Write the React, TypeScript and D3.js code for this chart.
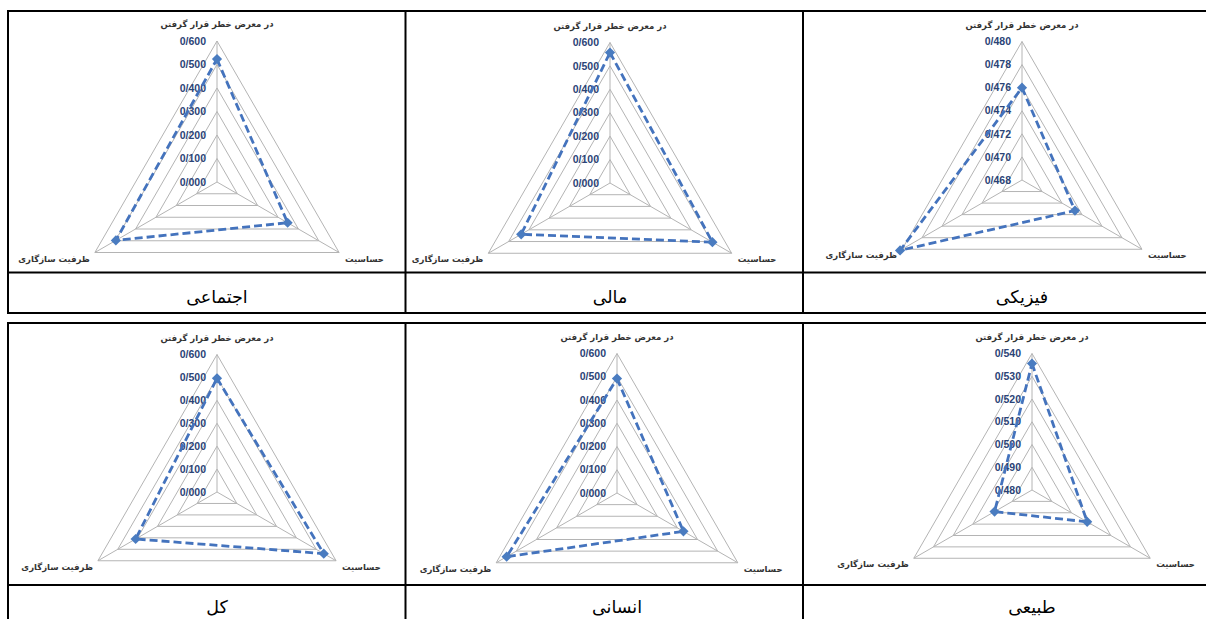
import React from 'react';
import * as d3 from 'd3';

// axes of every radar: top, bottom-right, bottom-left
const axisNames = ['در معرض خطر قرار گرفتن', 'حساسیت', 'ظرفیت سازگاری'];
const panelTitles = ['اجتماعی', 'مالی', 'فیزیکی', 'کل', 'انسانی', 'طبیعی'];

const socialValues = [0.523, 0.347, 0.497];
const financialValues = [0.557, 0.505, 0.438];
const physicalValues = [0.476, 0.4733, 0.4802];
const totalValues = [0.496, 0.538, 0.41];
const humanValues = [0.492, 0.33, 0.548];
const naturalValues = [0.5356, 0.508, 0.499];

const axisMins = [0, 0, 0.468, 0, 0, 0.48];
const axisMaxs = [0.6, 0.6, 0.48, 0.6, 0.6, 0.54];
const tickSteps = [0.1, 0.1, 0.002, 0.1, 0.1, 0.01];

const seriesList = [socialValues, financialValues, physicalValues, totalValues, humanValues, naturalValues];

// where each pasted chart sits in the table
const layout = [
  { cx: 217, cy: 182, r: 141 },
  { cx: 610, cy: 183, r: 140.5 },
  { cx: 1022, cy: 180, r: 138.5 },
  { cx: 217, cy: 492, r: 137.5 },
  { cx: 617, cy: 493, r: 139.5 },
  { cx: 1032, cy: 490, r: 136.5 },
];

const W = 1206;
const H = 619;
const faFont = '"DejaVu Sans", sans-serif';

const fmt = (v: number) => d3.format('.3f')(v).replace('.', '/');

function Radar({ idx }: { idx: number }) {
  const { cx, cy, r } = layout[idx];
  const min = axisMins[idx];
  const max = axisMaxs[idx];
  const step = tickSteps[idx];
  const values = seriesList[idx];

  const rScale = d3.scaleLinear().domain([min, max]).range([0, r]);
  const nTicks = Math.round((max - min) / step);
  const ticks = d3.range(nTicks + 1).map(i => min + i * step);
  const angle = (i: number) => ((-90 + 120 * i) * Math.PI) / 180;
  const pt = (i: number, rad: number): [number, number] => [
    cx + rad * Math.cos(angle(i)),
    cy + rad * Math.sin(angle(i)),
  ];

  const ring = d3.line().curve(d3.curveLinearClosed);
  const seriesPts = values.map((v, i) => pt(i, rScale(v)));
  const diamond = d3.symbol().type(d3.symbolSquare).size(52)();

  const top = pt(0, r);
  const br = pt(1, r);
  const bl = pt(2, r);

  return (
    <g>
      {ticks.slice(1).map(t => (
        <path
          key={t}
          d={ring([0, 1, 2].map(i => pt(i, rScale(t)))) as string}
          fill="none"
          stroke="#b4b4b4"
          strokeWidth={1}
        />
      ))}
      {[0, 1, 2].map(i => {
        const [x, y] = pt(i, r);
        return <line key={i} x1={cx} y1={cy} x2={x} y2={y} stroke="#b4b4b4" strokeWidth={1} />;
      })}
      {ticks.map(t => (
        <text
          key={'l' + t}
          x={cx - 11}
          y={cy - rScale(t)}
          dy="0.35em"
          textAnchor="end"
          fontFamily='"Liberation Sans", Arial, sans-serif'
          fontWeight="bold"
          fontSize={10.5}
          fill="#2b4477"
        >
          {fmt(t)}
        </text>
      ))}
      <path
        d={ring(seriesPts) as string}
        fill="none"
        stroke="#4473bd"
        strokeWidth={2.8}
        strokeDasharray="8 4"
      />
      {seriesPts.map(([x, y], i) => (
        <path key={'m' + i} d={diamond as string} transform={`translate(${x},${y}) rotate(45)`} fill="#4a7cc0" />
      ))}
      <text x={top[0]} y={top[1] - 14} textAnchor="middle" direction="rtl" fontFamily={faFont} fontWeight="bold" fontSize={8.5} fill="#333">
        {axisNames[0]}
      </text>
      <text x={br[0] + 6} y={br[1] + 9} textAnchor="start" fontFamily={faFont} fontWeight="bold" fontSize={8.5} fill="#333">
        {axisNames[1]}
      </text>
      <text x={bl[0] - 5} y={bl[1] + 9} textAnchor="end" fontFamily={faFont} fontWeight="bold" fontSize={8.5} fill="#333">
        {axisNames[2]}
      </text>
    </g>
  );
}

export default function App() {
  const colX = [8, 405.5, 803, 1201];
  const tables = [
    { top: 11, mid: 272.5, bottom: 313 },
    { top: 323, mid: 585, bottom: 640 },
  ];
  const titleY = [303, 613];

  return (
    <svg
      width={W}
      height={H}
      style={{ position: 'absolute', left: 0, top: 0, background: '#fff' }}
    >
      {tables.map((t, ti) => (
        <g key={ti} stroke="#000" strokeWidth={2}>
          <line x1={colX[0] - 1} x2={W} y1={t.top} y2={t.top} />
          <line x1={colX[0]} x2={W} y1={t.mid} y2={t.mid} />
          <line x1={colX[0] - 1} x2={W} y1={t.bottom} y2={t.bottom} />
          {colX.slice(0, 3).map(x => (
            <line key={x} x1={x} x2={x} y1={t.top} y2={Math.min(t.bottom, H)} />
          ))}
        </g>
      ))}
      {layout.map((_, i) => (
        <Radar key={i} idx={i} />
      ))}
      {panelTitles.map((name, i) => (
        <text
          key={name}
          x={layout[i].cx}
          y={titleY[Math.floor(i / 3)]}
          textAnchor="middle"
          fontFamily={faFont}
          fontSize={17.5}
          fill="#000"
        >
          {name}
        </text>
      ))}
    </svg>
  );
}
